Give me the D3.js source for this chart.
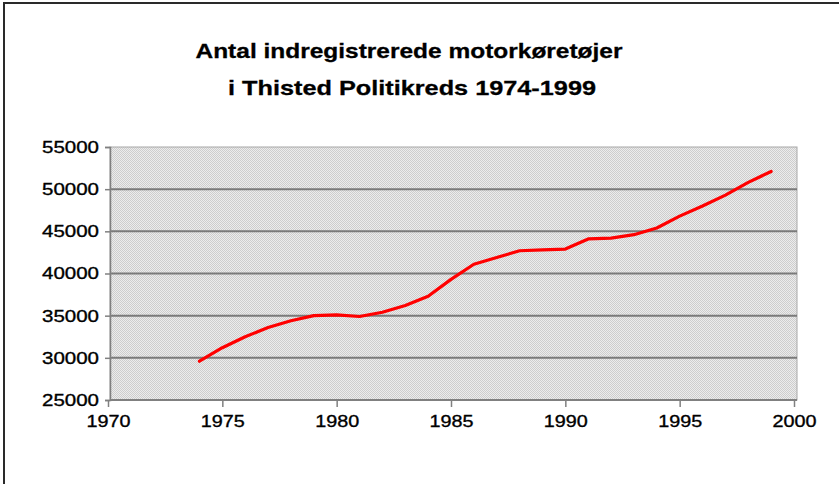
<!DOCTYPE html>
<html>
<head>
<meta charset="utf-8">
<script src="https://cdn.jsdelivr.net/npm/d3@7"></script>
<style>
  html, body { margin: 0; padding: 0; background: #ffffff; }
  svg { display: block; }
</style>
</head>
<body>
<div id="chart"></div>
<script>
// ---- data ----
const titleLines = ["Antal indregistrerede motorkøretøjer", "i Thisted Politikreds 1974-1999"];
const years = [1974, 1975, 1976, 1977, 1978, 1979, 1980, 1981, 1982, 1983, 1984, 1985, 1986,
               1987, 1988, 1989, 1990, 1991, 1992, 1993, 1994, 1995, 1996, 1997, 1998, 1999];
const vehicles = [29600, 31200, 32500, 33600, 34400, 35000, 35100, 34900, 35400, 36200, 37300, 39300, 41100,
                  41900, 42700, 42800, 42900, 44100, 44200, 44600, 45400, 46800, 48000, 49300, 50800, 52100];
const xTicks = [1970, 1975, 1980, 1985, 1990, 1995, 2000];
const yTicks = [25000, 30000, 35000, 40000, 45000, 50000, 55000];

// ---- layout ----
const W = 839, H = 484;
const plot = { left: 110, right: 797, top: 147, bottom: 400 };

const svg = d3.select("#chart").append("svg")
  .attr("width", W).attr("height", H);

// dithered plot background pattern
const defs = svg.append("defs");
const pat = defs.append("pattern")
  .attr("id", "dither").attr("patternUnits", "userSpaceOnUse")
  .attr("width", 2).attr("height", 2);
pat.append("rect").attr("width", 2).attr("height", 2).attr("fill", "#ececec");
pat.append("rect").attr("x", 0).attr("y", 0).attr("width", 1).attr("height", 1).attr("fill", "#cdcdcd");
pat.append("rect").attr("x", 1).attr("y", 1).attr("width", 1).attr("height", 1).attr("fill", "#cdcdcd");

// outer frame (left and top edges)
svg.append("path")
  .attr("d", `M4,${H} L4,3 L${W},3`)
  .attr("fill", "none").attr("stroke", "#2a2a2a").attr("stroke-width", 2);

// scales
const x = d3.scaleLinear().domain([1970, 2000]).range([108, 794]);
const y = d3.scaleLinear().domain([25000, 55000]).range([plot.bottom, plot.top]);

// plot area
svg.append("rect")
  .attr("x", plot.left).attr("y", plot.top)
  .attr("width", plot.right - plot.left).attr("height", plot.bottom - plot.top)
  .attr("fill", "url(#dither)")
  .attr("stroke", "#a8a8a8").attr("stroke-width", 1);

// gridlines
svg.append("g").selectAll("line")
  .data(yTicks.filter(v => v > 25000 && v < 55000))
  .join("line")
  .attr("x1", plot.left).attr("x2", plot.right)
  .attr("y1", d => y(d)).attr("y2", d => y(d))
  .attr("stroke", "#7a7a7a").attr("stroke-width", 2);

// y axis
const yAxis = svg.append("g")
  .attr("transform", `translate(${plot.left},0)`)
  .call(d3.axisLeft(y).tickValues(yTicks).tickSize(5).tickPadding(6).tickFormat(d3.format("d")));
yAxis.select(".domain").attr("stroke", "#808080").attr("stroke-width", 1.5);
yAxis.selectAll(".tick line").attr("stroke", "#808080").attr("stroke-width", 1.5);
yAxis.selectAll(".tick text")
  .attr("font-family", "'Liberation Sans', Arial, sans-serif")
  .attr("font-size", 17).attr("fill", "#000")
  .attr("stroke", "#000").attr("stroke-width", 0.35)
  .attr("textLength", 57).attr("lengthAdjust", "spacingAndGlyphs");

// x axis
const xAxis = svg.append("g")
  .attr("transform", `translate(0,${plot.bottom})`)
  .call(d3.axisBottom(x).tickValues(xTicks).tickSize(7).tickPadding(8).tickFormat(d3.format("d")));
xAxis.select(".domain").remove();
xAxis.append("line")
  .attr("x1", plot.left).attr("x2", plot.right).attr("y1", 0).attr("y2", 0)
  .attr("stroke", "#808080").attr("stroke-width", 2);
xAxis.selectAll(".tick line").attr("stroke", "#808080").attr("stroke-width", 1.5);
xAxis.selectAll(".tick text")
  .attr("font-family", "'Liberation Sans', Arial, sans-serif")
  .attr("font-size", 17).attr("fill", "#000")
  .attr("stroke", "#000").attr("stroke-width", 0.35)
  .attr("textLength", 44).attr("lengthAdjust", "spacingAndGlyphs");

// data line
const data = years.map((yr, i) => ({ yr, v: vehicles[i] }));
svg.append("path")
  .datum(data)
  .attr("d", d3.line().x(d => x(d.yr)).y(d => y(d.v)))
  .attr("fill", "none").attr("stroke", "#ff0000").attr("stroke-width", 3.2)
  .attr("stroke-linejoin", "round").attr("stroke-linecap", "round");

// title
const title = svg.append("g")
  .attr("font-family", "'Liberation Sans', Arial, sans-serif")
  .attr("font-weight", "bold").attr("font-size", 21).attr("fill", "#000")
  .attr("stroke", "#000").attr("stroke-width", 0.3)
  .attr("text-anchor", "middle");
title.append("text").attr("x", 409).attr("y", 58)
  .attr("textLength", 427).attr("lengthAdjust", "spacingAndGlyphs")
  .text(titleLines[0]);
title.append("text").attr("x", 412).attr("y", 95)
  .attr("textLength", 368).attr("lengthAdjust", "spacingAndGlyphs")
  .text(titleLines[1]);
</script>
</body>
</html>
